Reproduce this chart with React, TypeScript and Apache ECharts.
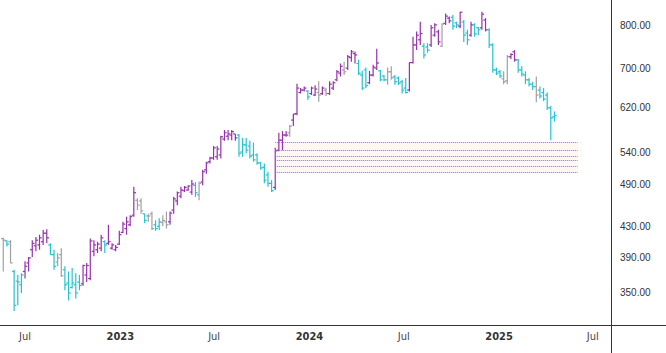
import React, { useEffect, useRef } from "react";
import * as echarts from "echarts";

const DAY = 86400000;
const FIRST_BAR = Date.UTC(2022, 4, 20);

// weekly OHLC bars (prices)
const openP = [
  414, 411, 410, 374, 363, 359, 374, 384, 400, 405, 406, 410, 421, 406, 394, 385, 394, 376, 361, 356, 359, 362, 360, 370, 366,
  398, 400, 402, 410, 408, 402, 400, 407, 422, 427, 432, 445, 466, 465, 447, 444, 447, 432, 430, 435, 436, 436, 452, 465, 472,
  480, 481, 478, 488, 474, 493, 512, 525, 531, 533, 536, 563, 568, 570, 572, 570, 541, 553, 551, 536, 536, 523, 516, 504, 491,
  485, 544, 561, 570, 574, 597, 609, 650, 655, 653, 648, 645, 650, 648, 655, 648, 659, 676, 690, 697, 701, 724, 733, 711, 686,
  697, 670, 686, 701, 695, 684, 676, 693, 682, 680, 672, 659, 655, 713, 753, 765, 750, 748, 753, 776, 784, 750, 805, 818, 820,
  806, 798, 808, 781, 776, 801, 794, 794, 813, 789, 753, 697, 693, 678, 674, 726, 737, 719, 697, 686, 676, 667, 662, 655, 650, 645, 620, 603,
];
const highP = [
  415, 412, 412, 376, 370, 372, 386, 391, 412, 416, 419, 425, 426, 408, 400, 396, 402, 380, 374, 378, 372, 370, 382, 384, 414,
  412, 410, 419, 412, 432, 408, 406, 424, 436, 443, 445, 486, 469, 469, 447, 447, 450, 438, 441, 445, 450, 450, 471, 479, 486,
  487, 488, 496, 493, 494, 512, 525, 533, 551, 551, 569, 579, 579, 579, 572, 572, 565, 565, 560, 557, 539, 525, 522, 509, 496,
  548, 574, 577, 577, 588, 609, 668, 659, 662, 655, 662, 665, 673, 662, 659, 673, 673, 697, 711, 715, 730, 741, 738, 719, 695,
  702, 695, 708, 744, 697, 686, 702, 705, 686, 683, 676, 680, 714, 772, 785, 809, 757, 757, 801, 805, 789, 805, 830, 822, 826,
  809, 834, 813, 789, 809, 805, 796, 834, 818, 793, 757, 702, 697, 694, 730, 734, 741, 721, 705, 694, 680, 672, 683, 662, 659, 650, 624, 613,
];
const lowP = [
  374, 404, 384, 331, 337, 350, 366, 374, 391, 398, 400, 406, 408, 394, 376, 380, 368, 353, 342, 355, 344, 353, 358, 362, 364,
  392, 396, 398, 396, 406, 400, 398, 406, 421, 419, 430, 443, 452, 447, 434, 436, 425, 424, 425, 430, 427, 432, 447, 459, 469,
  478, 480, 474, 471, 466, 488, 506, 522, 528, 528, 530, 560, 561, 561, 560, 533, 533, 539, 530, 525, 520, 512, 491, 486, 478,
  481, 542, 544, 567, 567, 586, 606, 648, 652, 635, 645, 643, 632, 645, 643, 645, 655, 673, 683, 686, 697, 715, 711, 686, 655,
  659, 667, 683, 697, 673, 673, 666, 676, 666, 665, 648, 648, 652, 711, 741, 753, 722, 735, 748, 772, 753, 748, 801, 805, 789,
  793, 793, 760, 753, 772, 772, 776, 789, 785, 746, 691, 686, 680, 667, 667, 721, 715, 691, 683, 667, 662, 655, 631, 638, 633, 616, 561, 594,
];
const closeP = [
  412, 407, 384, 337, 362, 370, 380, 390, 408, 412, 415, 421, 415, 394, 380, 390, 369, 359, 350, 361, 350, 358, 381, 381, 411,
  406, 407, 415, 406, 410, 406, 403, 419, 433, 436, 443, 477, 459, 451, 438, 444, 427, 427, 436, 438, 432, 448, 468, 477, 481,
  485, 487, 490, 477, 491, 509, 523, 531, 548, 546, 567, 574, 572, 576, 565, 539, 553, 544, 534, 528, 523, 515, 496, 491, 480,
  543, 561, 570, 570, 586, 608, 659, 655, 659, 641, 659, 657, 645, 659, 648, 667, 670, 693, 705, 693, 726, 737, 730, 690, 659,
  664, 686, 703, 712, 676, 676, 693, 680, 672, 669, 655, 650, 713, 753, 776, 780, 730, 741, 794, 801, 760, 803, 823, 811, 798,
  801, 833, 776, 765, 801, 779, 789, 828, 789, 753, 697, 690, 684, 672, 726, 731, 719, 697, 688, 676, 667, 662, 645, 643, 637, 620, 601, 605,
];
// bar state: u = up (purple), d = down (teal), n = neutral (grey)
const impulse = [
  "ndnddduuuuuuuddnnddddduuu",
  "uuuduuuuuuuunndnnddnnuuuu",
  "uuudnuuuuuuuuuudddddddddd",
  "uuuunuuuuduununuuuunuuudd",
  "duuuddnndddduuuudduuunuud",
  "duddudduuddddnnuudddddnddddd",
].join("");

const levels = [557.4, 544.3, 533.5, 527.8, 518.0, 507.4];
const levelStart = Date.UTC(2023, 9, 27);
const levelEnd = Date.UTC(2025, 5, 2);

const yTicks = [350, 390, 430, 490, 540, 620, 700, 800];
const xTicks = [
  Date.UTC(2022, 6, 1),
  Date.UTC(2023, 0, 1),
  Date.UTC(2023, 6, 1),
  Date.UTC(2024, 0, 1),
  Date.UTC(2024, 6, 1),
  Date.UTC(2025, 0, 1),
  Date.UTC(2025, 6, 1),
];

const COLORS: Record<string, string> = { u: "#9630ab", d: "#25c2d0", n: "#a0a0a0" };

export default function App() {
  const ref = useRef<HTMLDivElement>(null);
  useEffect(() => {
    if (!ref.current) return;
    const chart = echarts.init(ref.current, undefined, { renderer: "svg" });
    const T2024 = Date.UTC(2024, 0, 1);
    const data = openP.map((o, i) => [
      FIRST_BAR + i * 7 * DAY,
      Math.log(o),
      Math.log(highP[i]),
      Math.log(lowP[i]),
      Math.log(closeP[i]),
    ]);
    chart.setOption({
      animation: false,
      backgroundColor: "#ffffff",
      grid: { left: 0, right: 55, top: 0, bottom: 28 },
      xAxis: {
        type: "value",
        min: T2024 - 597.3 * DAY,
        max: T2024 + 582.2 * DAY,
        axisLine: { show: false },
        axisTick: { show: false },
        splitLine: { show: false },
        axisLabel: {
          customValues: xTicks,
          margin: 6,
          formatter: (v: number) => {
            const d = new Date(v);
            return d.getUTCMonth() === 0 ? `{y|${d.getUTCFullYear()}}` : `{m|Jul}`;
          },
          rich: {
            y: { fontFamily: "DejaVu Sans Condensed", fontSize: 11, fontWeight: "bold", color: "#333" },
            m: { fontFamily: "DejaVu Sans Condensed", fontSize: 11, color: "#444" },
          },
        },
      },
      yAxis: {
        type: "value",
        position: "right",
        min: 5.75904,
        max: 6.76275,
        axisLine: { show: false },
        axisTick: { show: false },
        splitLine: { show: false },
        axisLabel: {
          customValues: yTicks.map((t) => Math.log(t)),
          formatter: (v: number) => Math.exp(v).toFixed(2),
          margin: 9,
          fontFamily: "Liberation Sans",
          fontSize: 10,
          color: "#333",
        },
      },
      graphic: [
        { type: "line", shape: { x1: 611.5, y1: 0, x2: 611.5, y2: 353 }, style: { stroke: "#333", lineWidth: 1 }, z: 100 },
        { type: "line", shape: { x1: 0, y1: 325.5, x2: 666, y2: 325.5 }, style: { stroke: "#333", lineWidth: 1 }, z: 100 },
      ],
      series: [
        {
          type: "custom",
          data,
          encode: { x: 0, y: [1, 2, 3, 4] },
          renderItem: (params: any, api: any) => {
            const t = api.value(0);
            const pO = api.coord([t, api.value(1)]);
            const pH = api.coord([t, api.value(2)]);
            const pL = api.coord([t, api.value(3)]);
            const pC = api.coord([t, api.value(4)]);
            const color = COLORS[impulse[params.dataIndex]] || "#a0a0a0";
            const x = pH[0];
            const tk = 2.2;
            const st = { stroke: color, lineWidth: 1.2 };
            return {
              type: "group",
              children: [
                { type: "line", shape: { x1: x, y1: pH[1], x2: x, y2: pL[1] }, style: st },
                { type: "line", shape: { x1: x - tk, y1: pO[1], x2: x, y2: pO[1] }, style: st },
                { type: "line", shape: { x1: x, y1: pC[1], x2: x + tk, y2: pC[1] }, style: st },
              ],
            };
          },
          markArea: {
            silent: true,
            itemStyle: { color: "rgba(255, 190, 140, 0.13)" },
            data: [
              [
                { coord: [levelStart, Math.log(Math.max(...levels))] },
                { coord: [levelEnd, Math.log(Math.min(...levels))] },
              ],
            ],
          },
          markLine: {
            silent: true,
            symbol: "none",
            label: { show: false },
            lineStyle: { type: "dotted", color: "#7777dd", width: 1 },
            data: levels.map((l) => [
              { coord: [levelStart, Math.log(l)] },
              { coord: [levelEnd, Math.log(l)] },
            ]),
          },
        },
      ],
    });
    return () => chart.dispose();
  }, []);
  return (
    <div
      ref={ref}
      style={{ position: "fixed", left: 0, top: 0, width: 666, height: 353, background: "#fff" }}
    />
  );
}
